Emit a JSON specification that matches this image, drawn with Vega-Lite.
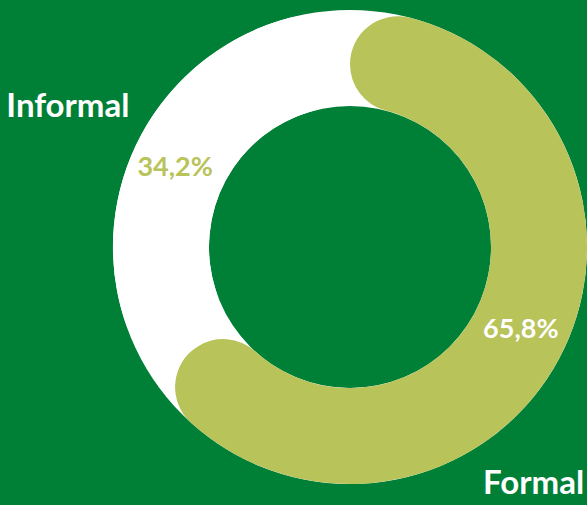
{
  "$schema": "https://vega.github.io/schema/vega-lite/v6.json",
  "width": 474,
  "height": 474,
  "autosize": {"type": "none"},
  "padding": {"left": 113, "top": 10, "right": 0, "bottom": 21},
  "background": "#008037",
  "config": {"view": {"stroke": null}},
  "data": {
    "values": [
      {"category": "Formal", "share": 65.8, "label": "65,8%"},
      {"category": "Informal", "share": 34.2, "label": "34,2%"}
    ]
  },
  "layer": [
    {
      "transform": [{"aggregate": [{"op": "sum", "field": "share", "as": "total"}]}],
      "mark": {"type": "arc", "outerRadius": 237, "innerRadius": 141, "fill": "#ffffff"},
      "encoding": {"theta": {"field": "total", "type": "quantitative", "stack": true}}
    },
    {
      "mark": {"type": "arc", "outerRadius": 237, "innerRadius": 141, "cornerRadius": 48},
      "encoding": {
        "theta": {"field": "share", "type": "quantitative", "stack": true},
        "order": {"field": "category", "sort": "ascending"},
        "color": {"field": "category", "type": "nominal", "scale": {"domain": ["Formal", "Informal"], "range": ["#b8c35a", "#ffffff"]}, "legend": null}
      }
    },
    {
      "mark": {"type": "text", "radius": 314, "dx": -6, "dy": 10, "font": "Lato", "fontWeight": "bold", "fontSize": 33, "fill": "#ffffff", "align": "center", "baseline": "middle"},
      "encoding": {
        "theta": {"field": "share", "type": "quantitative", "stack": true},
        "order": {"field": "category", "sort": "ascending"},
        "detail": {"field": "category"},
        "text": {"condition": {"test": "datum.category === 'Informal'", "field": "category", "type": "nominal"}, "value": ""}
      }
    },
    {
      "mark": {"type": "text", "radius": 260, "dx": -45, "dy": 113, "font": "Lato", "fontWeight": "bold", "fontSize": 33, "fill": "#ffffff", "align": "center", "baseline": "middle"},
      "encoding": {
        "theta": {"field": "share", "type": "quantitative", "stack": true},
        "order": {"field": "category", "sort": "ascending"},
        "detail": {"field": "category"},
        "text": {"condition": {"test": "datum.category === 'Formal'", "field": "category", "type": "nominal"}, "value": ""}
      }
    },
    {
      "mark": {"type": "text", "radius": 192, "dx": -6, "dy": 12, "font": "Lato", "fontWeight": "bold", "fontSize": 27, "fill": "#b8c35a", "align": "center", "baseline": "middle"},
      "encoding": {
        "theta": {"field": "share", "type": "quantitative", "stack": true},
        "order": {"field": "category", "sort": "ascending"},
        "detail": {"field": "category"},
        "text": {"condition": {"test": "datum.category === 'Informal'", "field": "label", "type": "nominal"}, "value": ""}
      }
    },
    {
      "mark": {"type": "text", "radius": 192, "dx": 2, "dy": -8, "font": "Lato", "fontWeight": "bold", "fontSize": 27, "fill": "#ffffff", "align": "center", "baseline": "middle"},
      "encoding": {
        "theta": {"field": "share", "type": "quantitative", "stack": true},
        "order": {"field": "category", "sort": "ascending"},
        "detail": {"field": "category"},
        "text": {"condition": {"test": "datum.category === 'Formal'", "field": "label", "type": "nominal"}, "value": ""}
      }
    }
  ]
}
